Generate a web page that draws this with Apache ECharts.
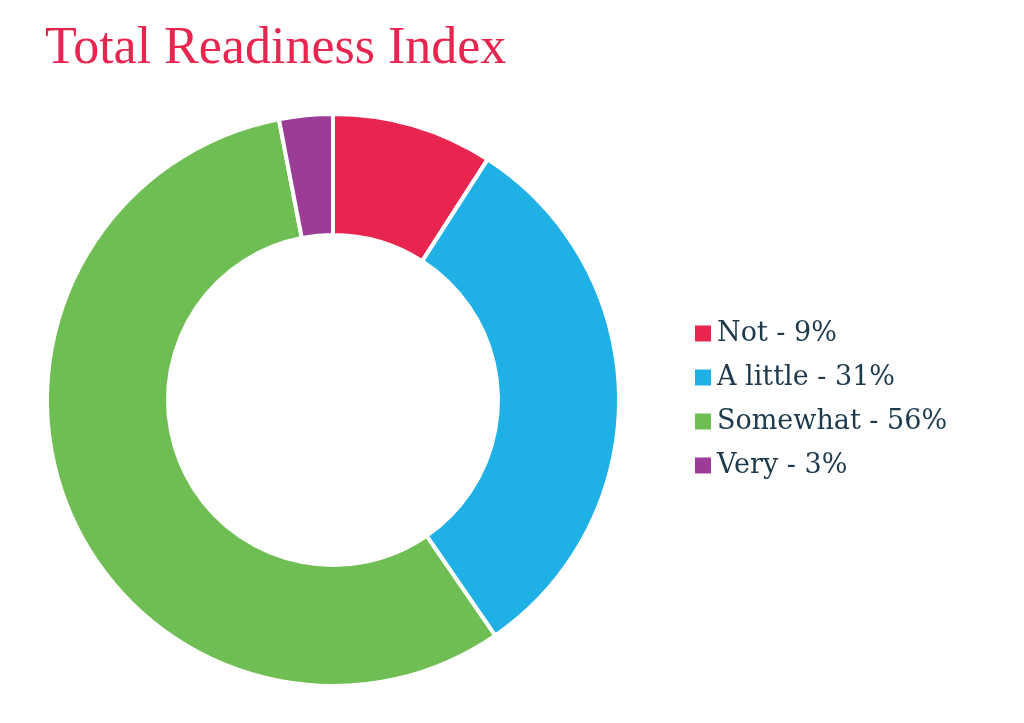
<!DOCTYPE html>
<html>
<head>
<meta charset="utf-8">
<script src="https://cdn.jsdelivr.net/npm/echarts@6/dist/echarts.min.js"></script>
<style>html,body{margin:0;padding:0;background:#fff}#chart{width:1024px;height:723px}</style>
</head>
<body>
<div id="chart"></div>
<script>
var categories = ['Not', 'A little', 'Somewhat', 'Very'];
var values = [9, 31, 56, 3];
var colors = ['#e8254f', '#1fb0e6', '#6fbe53', '#9b3d96'];

var chart = echarts.init(document.getElementById('chart'));

var data = categories.map(function (c, i) {
    return {name: c + ' - ' + values[i] + '%', value: values[i], itemStyle: {color: colors[i]}};
});

var option = {
    animation: false,
    title: {
        text: 'Total Readiness Index',
        left: 40,
        top: 18,
        textStyle: {fontFamily: 'Liberation Serif', fontWeight: 'normal', fontSize: 52, color: '#e8254f'}
    },
    legend: {
        orient: 'vertical',
        left: 688,
        top: 'middle',
        top: 315,
        icon: 'rect',
        itemWidth: 18,
        itemHeight: 18,
        itemGap: 17,
        textStyle: {fontFamily: 'DejaVu Serif', fontSize: 27, color: '#1c3a4c'},
        data: data.map(function (d) { return d.name; })
    },
    series: [{
        type: 'pie',
        center: [333, 400],
        radius: [165, 286],
        startAngle: 90,
        clockwise: true,
        label: {show: false},
        itemStyle: {borderColor: '#fff', borderWidth: 4},
        data: data
    }]
};
chart.setOption(option);
window.addEventListener('resize', function () { chart.resize(); });
</script>
</body>
</html>
